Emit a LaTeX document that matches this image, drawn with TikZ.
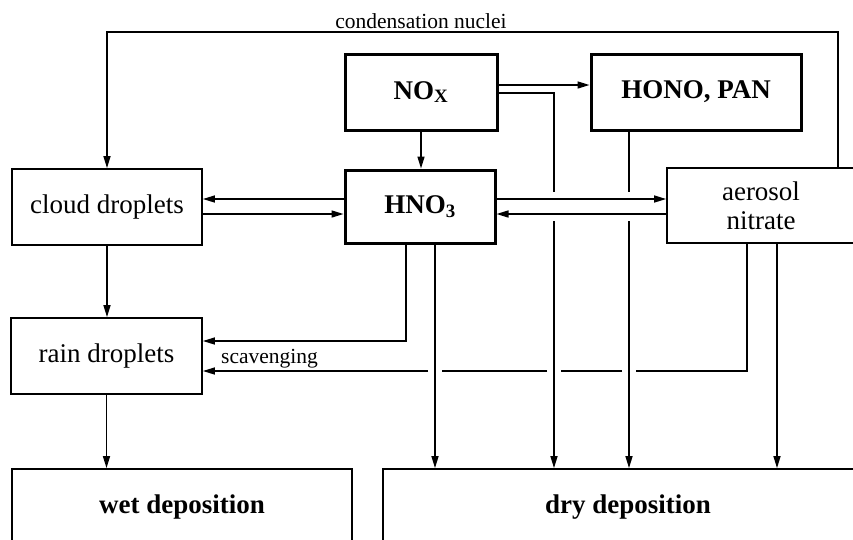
\documentclass[tikz,border=0pt]{standalone}
\usepackage{fontspec}
\setmainfont{Liberation Serif}
\usetikzlibrary{arrows.meta,calc}
\begin{document}
\begin{tikzpicture}[x=1pt,y=-1pt,
  thinbox/.style={draw, line width=1.8pt, rectangle, inner sep=0pt, font=\fontsize{27}{29}\selectfont, align=center},
  thickbox/.style={thinbox, line width=3pt, font=\fontsize{27}{29}\selectfont\bfseries},
  boldbox/.style={thinbox, font=\fontsize{27}{29}\selectfont\bfseries},
  conn/.style={line width=1.5pt},
  arr/.style={conn, -{Triangle[length=12pt,width=7pt]}},
  lbl/.style={font=\fontsize{21.5}{24}\selectfont, inner sep=0pt}
]
\useasboundingbox (0,0) rectangle (853,539);
\clip (0,0) rectangle (853,539);
\fill[white] (0,0) rectangle (853,539);

% boxes
\node[thinbox, minimum width=190pt, minimum height=76pt] (cloud) at (107,207) {cloud droplets};
\node[thinbox, minimum width=191pt, minimum height=76pt] (rain) at (106.5,356) {rain droplets};
\node[thickbox, minimum width=152pt, minimum height=76pt] (nox) at (421,92) {NO\textsubscript{X}};
\node[thickbox, minimum width=150pt, minimum height=73pt] (hno) at (420,206.5) {HNO\textsubscript{3}};
\node[thickbox, minimum width=210pt, minimum height=76pt] (hono) at (696,92) {HONO, PAN};
\node[thinbox, minimum width=188pt, minimum height=75pt] (aer) at (761,205.5) {aerosol\\nitrate};
\node[boldbox, minimum width=340pt, minimum height=76pt] (wet) at (182,507) {wet deposition};
\node[boldbox, minimum width=490pt, minimum height=76pt] (dry) at (628,507) {dry deposition};

% helper coordinates
\coordinate (top) at (838,32);
\coordinate (ya) at (0,85);
\coordinate (yb) at (0,93);
\coordinate (yc) at (0,199);
\coordinate (yd) at (0,214);
\coordinate (ye) at (0,341);
\coordinate (yf) at (0,371);
\coordinate (g1) at (0,192);
\coordinate (g2) at (0,221);
\coordinate (xa) at (406,0);
\coordinate (xb) at (435,0);
\coordinate (xc) at (554,0);
\coordinate (xd) at (629,0);
\coordinate (xe) at (747,0);
\coordinate (xf) at (777,0);

% condensation nuclei
\draw[arr] (top |- aer.north) -- (top) -- (top -| cloud.north) -- (cloud.north);
\node[lbl, anchor=base] (cnl) at (421,28) {condensation nuclei};

% NOx connections
\draw[arr] (nox.east |- ya) -- (hono.west |- ya);
\draw[conn] (nox.east |- yb) -- (xc |- yb) -- (xc |- g1);
\draw[arr] (xc |- g2) -- (xc |- dry.north);
\draw[arr] (nox.south) -- (nox.south |- hno.north);

% HNO3 <-> cloud, aerosol
\draw[arr] (hno.west |- yc) -- (cloud.east |- yc);
\draw[arr] (cloud.east |- yd) -- (hno.west |- yd);
\draw[arr] (hno.east |- yc) -- (aer.west |- yc);
\draw[arr] (aer.west |- yd) -- (hno.east |- yd);

% HONO down
\draw[conn] (xd |- hono.south) -- (xd |- g1);
\draw[arr] (xd |- g2) -- (xd |- dry.north);

% HNO3 down
\draw[arr] (xb |- hno.south) -- (xb |- dry.north);
\draw[arr] (xa |- hno.south) -- (xa |- ye) -- (rain.east |- ye);

% aerosol scavenging
\draw[conn] (xe |- aer.south) -- (xe |- yf) -- ($(xd |- yf)+(7,0)$);
\draw[conn] ($(xd |- yf)+(-7,0)$) -- ($(xc |- yf)+(7,0)$);
\draw[conn] ($(xc |- yf)+(-7,0)$) -- ($(xb |- yf)+(7,0)$);
\draw[arr] ($(xb |- yf)+(-7,0)$) -- (rain.east |- yf);
\node[lbl, anchor=base west] (scv) at (221,363) {scavenging};

% aerosol dry
\draw[arr] (xf |- aer.south) -- (xf |- dry.north);

% cloud -> rain -> wet
\draw[arr] (cloud.south) -- (cloud.south |- rain.north);
\draw[arr] (rain.south) -- (rain.south |- wet.north);
\end{tikzpicture}
\end{document}
